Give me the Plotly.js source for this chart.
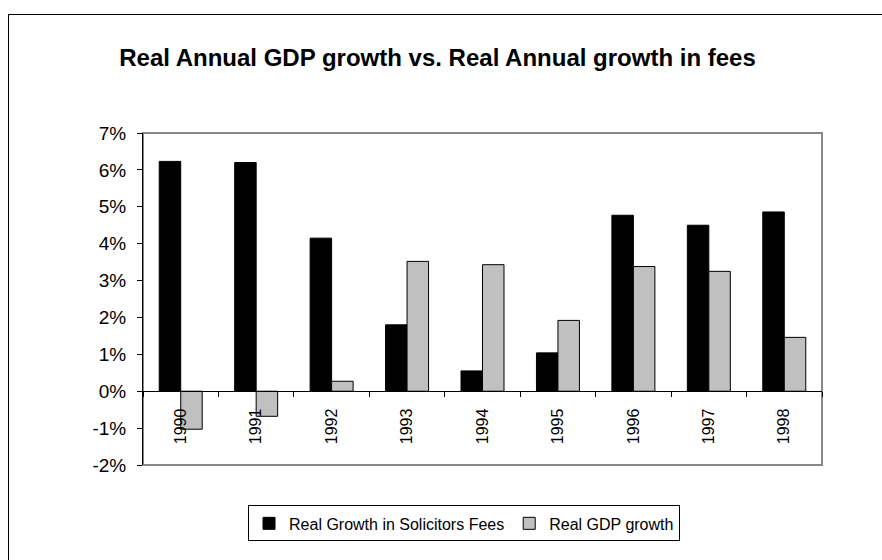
<!DOCTYPE html>
<html>
<head>
<meta charset="utf-8">
<script src="https://cdn.plot.ly/plotly-3.0.1.min.js"></script>
<style>
html,body{margin:0;padding:0;background:#fff;}
#wrap{position:relative;width:882px;height:560px;overflow:hidden;}
#chart{position:absolute;left:0;top:0;width:882px;height:560px;}
#frame{position:absolute;left:8px;top:14px;width:900px;height:600px;border:1px solid #000;pointer-events:none;}
</style>
</head>
<body>
<div id="wrap"><div id="chart"></div><div id="frame"></div></div>
<script>
const years = ['1990','1991','1992','1993','1994','1995','1996','1997','1998'];
const solicitorsFees = [0.0623, 0.0620, 0.0415, 0.0180, 0.0055, 0.0104, 0.0477, 0.0450, 0.0486];
const gdpGrowth = [-0.0103, -0.0068, 0.0027, 0.0352, 0.0343, 0.0192, 0.0338, 0.0325, 0.0146];
const seriesNames = ['Real Growth in Solicitors Fees', 'Real GDP growth'];
const yTickValues = [-0.02, -0.01, 0, 0.01, 0.02, 0.03, 0.04, 0.05, 0.06, 0.07];
const yTickLabels = ['-2%', '-1%', '0%', '1%', '2%', '3%', '4%', '5%', '6%', '7%'];

const FONT = 'Arial, "Liberation Sans", sans-serif';

const traces = [
  {type:'bar', x: years, y: solicitorsFees, name: seriesNames[0],
   marker:{color:'#000000', line:{color:'#000000', width:1}}},
  {type:'bar', x: years, y: gdpGrowth, name: seriesNames[1],
   marker:{color:'#c0c0c0', line:{color:'#000000', width:1}}}
];

const yMin = -0.02, yMax = 0.07;

const layout = {
  width: 882, height: 560,
  margin: {l:143, r:60, t:133, b:95, pad:0},
  paper_bgcolor:'#ffffff', plot_bgcolor:'#ffffff',
  font:{family: FONT, color:'#000', size:16},
  title:{text:'<b>Real Annual GDP growth vs. Real Annual growth in fees</b>',
    font:{family: FONT, size:24, color:'#000'},
    x: 437.5/882, xref:'container', xanchor:'center',
    y: 1 - 58/560, yref:'container', yanchor:'middle'},
  barmode:'group', bargap:0.43, bargroupgap:0,
  showlegend:true,
  legend:{orientation:'h', x:0.4728, xanchor:'center', y:-0.176, yanchor:'middle',
    bordercolor:'#000', borderwidth:1, bgcolor:'#fff',
    font:{family: FONT, size:16, color:'#000'}, traceorder:'normal'},
  xaxis:{type:'category', anchor:'free', position:(0 - yMin)/(yMax - yMin),
    showline:true, linecolor:'#000', linewidth:1,
    ticks:'outside', tickson:'boundaries', ticklen:5, tickcolor:'#000', tickwidth:1,
    tickangle:-90, ticklabelstandoff:10, tickfont:{family: FONT, size:16, color:'#000'},
    showgrid:false, zeroline:false, fixedrange:true},
  yaxis:{range:[yMin, yMax], tickmode:'array', tickvals: yTickValues, ticktext: yTickLabels,
    showline:true, linecolor:'#000', linewidth:1,
    ticks:'outside', ticklen:5, tickcolor:'#000', tickwidth:1, ticklabelstandoff:7,
    tickfont:{family: FONT, size:19, color:'#000'},
    showgrid:false, zeroline:false, fixedrange:true},
  shapes:[{type:'rect', xref:'paper', yref:'paper', x0:0, x1:1, y0:0, y1:1,
    line:{color:'#888888', width:2}, layer:'below'}]
};

Plotly.newPlot('chart', traces, layout, {displayModeBar:false, staticPlot:true});
</script>
</body>
</html>
